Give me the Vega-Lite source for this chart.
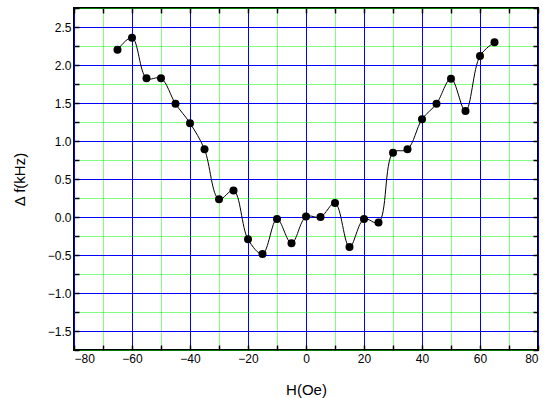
{
  "$schema": "https://vega.github.io/schema/vega-lite/v6.json",
  "autosize": "none",
  "width": 464,
  "height": 342,
  "padding": {"left": 74, "top": 8, "right": 11, "bottom": 48},
  "background": "white",
  "config": {
    "view": {"stroke": "black", "strokeWidth": 2},
    "axis": {"labelFont": "Liberation Sans", "titleFont": "Liberation Sans", "labelColor": "black", "titleColor": "black", "titleFontWeight": "normal"}
  },
  "data": {"values": [
    {"H": -65, "df": 2.2},
    {"H": -60, "df": 2.36},
    {"H": -55, "df": 1.825},
    {"H": -50, "df": 1.825},
    {"H": -45, "df": 1.49},
    {"H": -40, "df": 1.235},
    {"H": -35, "df": 0.89},
    {"H": -30, "df": 0.233},
    {"H": -25, "df": 0.35},
    {"H": -20, "df": -0.293},
    {"H": -15, "df": -0.487},
    {"H": -10, "df": -0.026},
    {"H": -5, "df": -0.346},
    {"H": 0, "df": 0.005},
    {"H": 5, "df": 0.0},
    {"H": 10, "df": 0.184},
    {"H": 15, "df": -0.395},
    {"H": 20, "df": -0.026},
    {"H": 25, "df": -0.074},
    {"H": 30, "df": 0.847},
    {"H": 35, "df": 0.89},
    {"H": 40, "df": 1.286},
    {"H": 45, "df": 1.49},
    {"H": 50, "df": 1.82},
    {"H": 55, "df": 1.395},
    {"H": 60, "df": 2.12},
    {"H": 65, "df": 2.3}
  ]},
  "resolve": {"axis": {"x": "independent", "y": "independent"}},
  "layer": [
    {
      "mark": {"type": "line", "interpolate": "catmull-rom", "color": "black", "strokeWidth": 1},
      "encoding": {
        "x": {"field": "H", "type": "quantitative",
          "scale": {"domain": [-80, 80], "nice": false, "zero": false},
          "axis": {
            "orient": "bottom", "title": null, "labels": false, "domain": false,
            "values": [-70,-50,-30,-10,10,30,50,70],
            "grid": true, "gridColor": "#00ff00", "gridDash": [1, 1], "gridWidth": 1, "gridOpacity": 1,
            "ticks": true, "tickSize": -5, "tickColor": "black", "tickWidth": 1.5
          }},
        "y": {"field": "df", "type": "quantitative",
          "scale": {"domain": [-1.75, 2.75], "nice": false, "zero": false},
          "axis": {
            "orient": "left", "title": null, "labels": false, "domain": false,
            "values": [-1.75,-1.25,-0.75,-0.25,0.25,0.75,1.25,1.75,2.25,2.75],
            "grid": true, "gridColor": "#00ff00", "gridDash": [1, 1], "gridWidth": 1, "gridOpacity": 1,
            "ticks": true, "tickSize": -5, "tickColor": "black", "tickWidth": 1.5
          }}
      }
    },
    {
      "mark": {"type": "point", "filled": true, "color": "black", "size": 64, "opacity": 1},
      "encoding": {
        "x": {"field": "H", "type": "quantitative",
          "axis": {
            "orient": "bottom", "title": "H(Oe)", "titleFontSize": 15, "titlePadding": 18,
            "values": [-80,-60,-40,-20,0,20,40,60,80],
            "labelFontSize": 12, "labelPadding": 8,
            "grid": true, "gridColor": "#0000ff", "gridWidth": 1, "gridOpacity": 1,
            "domain": false, "ticks": true, "tickSize": -5, "tickColor": "black", "tickWidth": 1.5
          }},
        "y": {"field": "df", "type": "quantitative",
          "axis": {
            "orient": "left", "title": "Δ f(kHz)", "titleFontSize": 15, "titlePadding": 20,
            "values": [-1.5,-1,-0.5,0,0.5,1,1.5,2,2.5],
            "format": ".1f",
            "labelFontSize": 12, "labelPadding": 8,
            "grid": true, "gridColor": "#0000ff", "gridWidth": 1, "gridOpacity": 1,
            "domain": false, "ticks": true, "tickSize": -5, "tickColor": "black", "tickWidth": 1.5
          }}
      }
    },
    {
      "mark": {"type": "point", "opacity": 0},
      "encoding": {
        "x": {"field": "H", "type": "quantitative",
          "axis": {"orient": "top", "title": null, "labels": false, "grid": false, "domain": false,
            "values": [-80,-70,-60,-50,-40,-30,-20,-10,0,10,20,30,40,50,60,70,80],
            "ticks": true, "tickSize": -5, "tickColor": "black", "tickWidth": 1.5}},
        "y": {"field": "df", "type": "quantitative",
          "axis": {"orient": "right", "title": null, "labels": false, "grid": false, "domain": false,
            "values": [-1.75,-1.5,-1.25,-1,-0.75,-0.5,-0.25,0,0.25,0.5,0.75,1,1.25,1.5,1.75,2,2.25,2.5,2.75],
            "ticks": true, "tickSize": -5, "tickColor": "black", "tickWidth": 1.5}}
      }
    }
  ]
}
